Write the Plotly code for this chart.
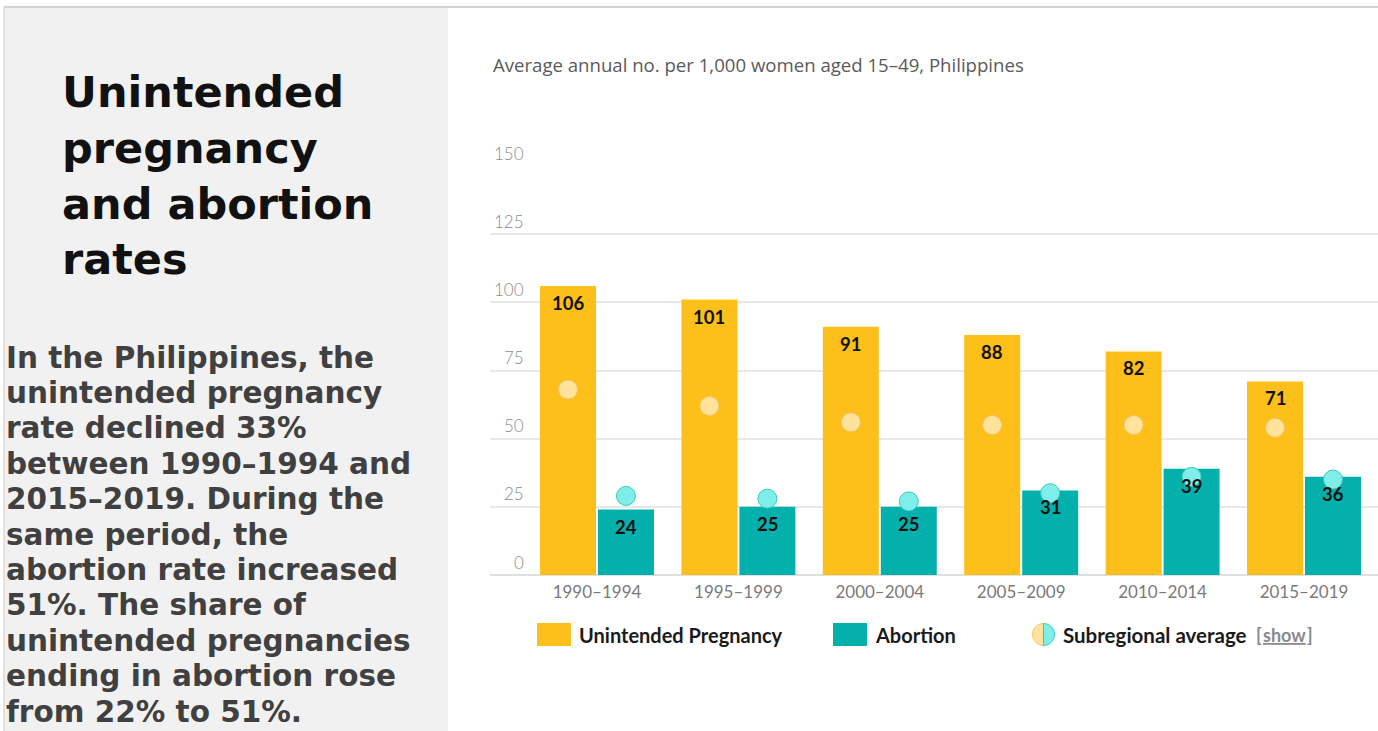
import plotly.graph_objects as go

# ---- data -------------------------------------------------------------
categories = ["1990–1994", "1995–1999", "2000–2004", "2005–2009", "2010–2014", "2015–2019"]
unintended = [106, 101, 91, 88, 82, 71]
abortion = [24, 25, 25, 31, 39, 36]
sub_unintended = [68, 62, 56, 55, 55, 54]
sub_abortion = [29, 28, 27, 30, 36, 35]
y_ticks = [0, 25, 50, 75, 100, 125, 150]

title_lines = ["Unintended", "pregnancy", "and abortion", "rates"]
body_lines = [
    "In the Philippines, the",
    "unintended pregnancy",
    "rate declined 33%",
    "between 1990–1994 and",
    "2015–2019. During the",
    "same period, the",
    "abortion rate increased",
    "51%. The share of",
    "unintended pregnancies",
    "ending in abortion rose",
    "from 22% to 51%.",
]
subtitle = "Average annual no. per 1,000 women aged 15–49, Philippines"

# ---- styling ----------------------------------------------------------
W, H = 1378, 731
YELLOW = "#FDBF1A"
TEAL = "#04B0AB"
DOT_YELLOW = "#FFE29C"
DOT_YELLOW_LINE = "#F2C76A"
DOT_TEAL = "#80EEE8"
DOT_TEAL_LINE = "#3CC8C0"
PANEL = "#F1F1F1"
GRID = "#E8E8E8"
BAR_W = 0.396
Y_OFF = -0.403   # yellow bar left offset from category centre
T_OFF = 0.007    # teal bar left offset from category centre


def px(x):
    return x / W


def py(y):
    return 1 - y / H


xs = list(range(len(categories)))
x_yellow = [i + Y_OFF + BAR_W / 2 for i in xs]
x_teal = [i + T_OFF + BAR_W / 2 for i in xs]

fig = go.Figure()

fig.add_trace(go.Bar(
    x=xs, y=unintended, width=BAR_W, offset=Y_OFF,
    marker=dict(color=YELLOW, line=dict(width=0)),
    name="Unintended Pregnancy", showlegend=False, hoverinfo="skip",
))
fig.add_trace(go.Bar(
    x=xs, y=abortion, width=BAR_W, offset=T_OFF,
    marker=dict(color=TEAL, line=dict(width=0)),
    name="Abortion", showlegend=False, hoverinfo="skip",
))
fig.add_trace(go.Scatter(
    x=x_yellow, y=sub_unintended, mode="markers",
    marker=dict(size=19, color=DOT_YELLOW, line=dict(color=DOT_YELLOW_LINE, width=1)),
    showlegend=False, hoverinfo="skip", cliponaxis=False,
))
fig.add_trace(go.Scatter(
    x=x_teal, y=sub_abortion, mode="markers",
    marker=dict(size=19, color=DOT_TEAL, line=dict(color=DOT_TEAL_LINE, width=1)),
    showlegend=False, hoverinfo="skip", cliponaxis=False,
))

annotations = []

# value labels inside the bar tops
value_font = dict(family="Lato", size=18.5, color="#111111")
for xv, v in zip(x_yellow, unintended):
    annotations.append(dict(x=xv, y=v, xref="x", yref="y", text=f"<b>{v}</b>",
                            showarrow=False, yanchor="middle", yshift=-17, font=value_font))
for xv, v in zip(x_teal, abortion):
    annotations.append(dict(x=xv, y=v, xref="x", yref="y", text=f"<b>{v}</b>",
                            showarrow=False, yanchor="middle", yshift=-17, font=value_font))

# y tick labels sitting above their gridlines
for t in y_ticks:
    annotations.append(dict(x=px(526), y=t, xref="paper", yref="y", text=str(t),
                            showarrow=False, xanchor="right", yanchor="middle", yshift=13,
                            font=dict(family="Lato", size=17, color="#8C8C8C", weight=300)))

# chart subtitle
annotations.append(dict(x=px(491), y=py(64), xref="paper", yref="paper", text=subtitle,
                        showarrow=False, xanchor="left", yanchor="middle",
                        font=dict(family="Open Sans", size=18.6, color="#5A5A5A")))

# side panel title, one line at a time
TITLE_SIZE = 43
for i, line in enumerate(title_lines):
    baseline = 108.3 + 55.6 * i
    annotations.append(dict(x=px(60), y=py(baseline - TITLE_SIZE), xref="paper", yref="paper",
                            text=line, align="left", showarrow=False,
                            xanchor="left", yanchor="top",
                            font=dict(family="DejaVu Sans", size=TITLE_SIZE,
                                      color="#111111", weight="bold")))

# side panel body text
BODY_SIZE = 29.5
for i, line in enumerate(body_lines):
    baseline = 368 + 35.4 * i
    annotations.append(dict(x=px(4), y=py(baseline - BODY_SIZE), xref="paper", yref="paper",
                            text=line, align="left", showarrow=False,
                            xanchor="left", yanchor="top",
                            font=dict(family="DejaVu Sans", size=BODY_SIZE,
                                      color="#404040", weight="bold")))

# legend
LEG_Y = 634.5
legend_font = dict(family="Lato", size=20, color="#1A1A1A", weight="bold")
annotations.append(dict(x=px(577), y=py(LEG_Y), xref="paper", yref="paper",
                        text="Unintended Pregnancy", showarrow=False, xanchor="left",
                        yanchor="middle", font=legend_font))
annotations.append(dict(x=px(873), y=py(LEG_Y), xref="paper", yref="paper",
                        text="Abortion", showarrow=False, xanchor="left",
                        yanchor="middle", font=legend_font))
annotations.append(dict(x=px(1061), y=py(LEG_Y), xref="paper", yref="paper",
                        text="Subregional average", showarrow=False, xanchor="left",
                        yanchor="middle", font=dict(legend_font, size=20.5)))
show_font = dict(family="Lato", size=18, color="#8A8A8A", weight="bold")
annotations.append(dict(x=px(1254), y=py(LEG_Y), xref="paper", yref="paper",
                        text="[", showarrow=False, xanchor="left", yanchor="middle",
                        font=show_font))
annotations.append(dict(x=px(1261), y=py(LEG_Y), xref="paper", yref="paper",
                        text="show", showarrow=False, xanchor="left", yanchor="middle",
                        font=dict(show_font, lineposition="under")))
annotations.append(dict(x=px(1305), y=py(LEG_Y), xref="paper", yref="paper",
                        text="]", showarrow=False, xanchor="left", yanchor="middle",
                        font=show_font))

shapes = []
# grey side panel and frame lines
shapes.append(dict(type="rect", xref="paper", yref="paper", layer="below",
                   x0=px(4), x1=px(448), y0=py(731), y1=py(8),
                   fillcolor=PANEL, line=dict(width=0)))
shapes.append(dict(type="line", xref="paper", yref="paper", layer="above",
                   x0=px(4), x1=1, y0=py(7), y1=py(7),
                   line=dict(color="#D2D2D2", width=2)))
shapes.append(dict(type="line", xref="paper", yref="paper", layer="above",
                   x0=px(4), x1=px(4), y0=py(7), y1=0,
                   line=dict(color="#DADADA", width=1.5)))

# legend swatches
shapes.append(dict(type="rect", xref="paper", yref="paper",
                   x0=px(537), x1=px(571), y0=py(646), y1=py(623),
                   fillcolor=YELLOW, line=dict(width=0)))
shapes.append(dict(type="rect", xref="paper", yref="paper",
                   x0=px(833), x1=px(867), y0=py(646), y1=py(623),
                   fillcolor=TEAL, line=dict(width=0)))


def half_circle_path(cx, cy, r, side):
    k = 0.5523 * r
    s = -1 if side == "left" else 1
    pts = [
        (cx, cy - r),
        (cx + s * k, cy - r), (cx + s * r, cy - k), (cx + s * r, cy),
        (cx + s * r, cy + k), (cx + s * k, cy + r), (cx, cy + r),
    ]
    p = [(px(a), py(b)) for a, b in pts]
    return (f"M {p[0][0]},{p[0][1]} "
            f"C {p[1][0]},{p[1][1]} {p[2][0]},{p[2][1]} {p[3][0]},{p[3][1]} "
            f"C {p[4][0]},{p[4][1]} {p[5][0]},{p[5][1]} {p[6][0]},{p[6][1]} Z")


CX, CY, R = 1043.5, 634.5, 11
shapes.append(dict(type="path", xref="paper", yref="paper",
                   path=half_circle_path(CX, CY, R, "left"),
                   fillcolor=DOT_YELLOW, line=dict(color=DOT_YELLOW_LINE, width=1)))
shapes.append(dict(type="path", xref="paper", yref="paper",
                   path=half_circle_path(CX, CY, R, "right"),
                   fillcolor=DOT_TEAL, line=dict(color=DOT_TEAL_LINE, width=1)))

fig.update_layout(
    width=W, height=H, autosize=False,
    margin=dict(l=0, r=0, t=0, b=0),
    paper_bgcolor="white", plot_bgcolor="rgba(0,0,0,0)",
    barmode="overlay",
    xaxis=dict(
        domain=[px(490), 1.0],
        range=[(490 - 597) / 141.4, (1378 - 597) / 141.4],
        tickmode="array", tickvals=xs, ticktext=categories,
        showgrid=False, zeroline=False, showline=False, ticks="",
        ticklabelstandoff=5,
        tickfont=dict(family="Lato", size=17, color="#7A7A7A"),
        fixedrange=True,
    ),
    yaxis=dict(
        domain=[py(575), py(166)],
        range=[0, 150],
        tickmode="array", tickvals=y_ticks,
        showticklabels=False, showgrid=True, gridcolor=GRID, gridwidth=1.5,
        zeroline=True, zerolinecolor="#E0E0E0", zerolinewidth=1.5,
        showline=False, ticks="", fixedrange=True,
    ),
    annotations=annotations,
    shapes=shapes,
)

fig.write_html("out.html")
